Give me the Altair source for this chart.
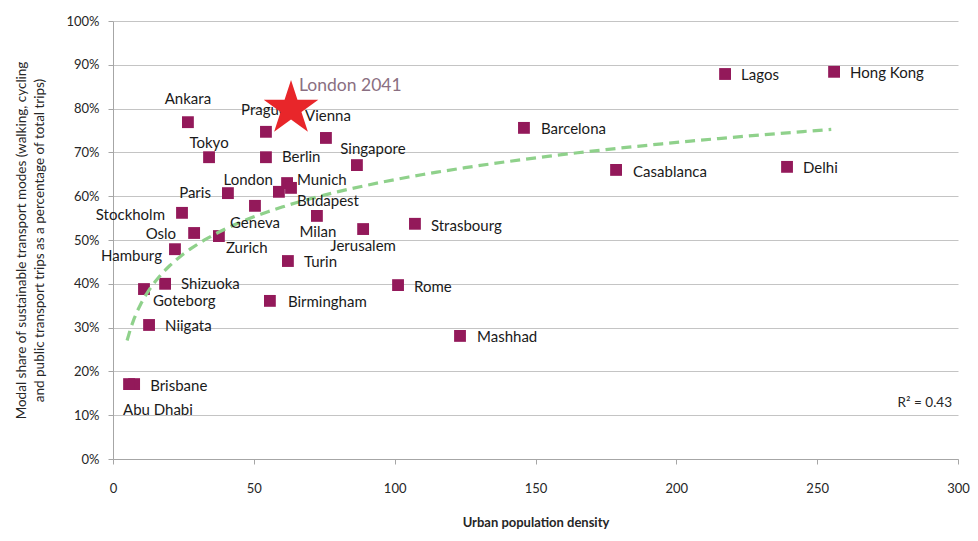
import altair as alt
import pandas as pd

# ---------------- data ----------------
cities = ["Ankara", "Prague", "Vienna", "Tokyo", "Berlin", "Singapore", "London",
          "Munich", "Budapest", "Paris", "Geneva", "Stockholm", "Oslo", "Zurich",
          "Milan", "Jerusalem", "Hamburg", "Turin", "Shizuoka", "Goteborg",
          "Birmingham", "Niigata", "Brisbane", "Abu Dhabi", "Barcelona", "Lagos",
          "Hong Kong", "Casablanca", "Delhi", "Strasbourg", "Rome", "Mashhad"]
density = [26.6, 54.3, 75.6, 34.1, 54.3, 86.6, 58.9,
           61.8, 63.2, 40.8, 50.4, 24.5, 28.8, 37.6,
           72.4, 88.8, 22.0, 62.1, 18.5, 11.0,
           55.7, 12.8, 7.5, 5.7, 145.9, 217.3,
           256.0, 178.6, 239.3, 107.2, 101.2, 123.2]
share = [0.769, 0.747, 0.733, 0.689, 0.689, 0.671, 0.610,
         0.630, 0.619, 0.607, 0.578, 0.562, 0.516, 0.509,
         0.555, 0.525, 0.479, 0.452, 0.400, 0.388,
         0.361, 0.306, 0.171, 0.171, 0.756, 0.879,
         0.884, 0.660, 0.667, 0.537, 0.397, 0.281]

target_name = ["London 2041"]
target_density = [63.2]
target_share = [0.80]

x_ticks = [0, 50, 100, 150, 200, 250, 300]
y_ticks = [0, 0.1, 0.2, 0.3, 0.4, 0.5, 0.6, 0.7, 0.8, 0.9, 1.0]
r2_text = "R\u00b2 = 0.43"

# ---------------- label placement (styling) ----------------
LABEL_POS = {
    "Ankara": ("center", 0, -23), "Prague": ("center", -2, -22),
    "Vienna": ("center", 2, -22), "Tokyo": ("center", 0, -14),
    "Berlin": ("left", 16, 0), "Singapore": ("center", 16, -16),
    "London": ("right", -6, -12), "Munich": ("left", 10, -3),
    "Budapest": ("left", 6, 13), "Paris": ("right", -17, 0),
    "Geneva": ("center", 0, 17), "Stockholm": ("right", -17, 2),
    "Oslo": ("right", -18, 1), "Zurich": ("left", 7, 12),
    "Milan": ("center", 1, 16), "Jerusalem": ("center", 0, 17),
    "Hamburg": ("right", -13, 7), "Turin": ("left", 16, 1),
    "Shizuoka": ("left", 16, 0), "Goteborg": ("left", 9, 12),
    "Birmingham": ("left", 18, 1), "Niigata": ("left", 16, 1),
    "Brisbane": ("left", 16, 2), "Abu Dhabi": ("left", -6, 26),
    "Barcelona": ("left", 17, 1), "Lagos": ("left", 16, 1),
    "Hong Kong": ("left", 16, 1), "Casablanca": ("left", 17, 2),
    "Delhi": ("left", 16, 1), "Strasbourg": ("left", 16, 2),
    "Rome": ("left", 16, 2), "Mashhad": ("left", 17, 1),
}

df = pd.DataFrame({"city": cities, "density": density, "share": share})
tdf = pd.DataFrame({"name": target_name, "density": target_density, "share": target_share})

FONT = "Lato"
STAR = ("M0,-1 L0.225,-0.309 L0.951,-0.309 L0.363,0.118 L0.588,0.809 L0,0.382 "
        "L-0.588,0.809 L-0.363,0.118 L-0.951,-0.309 L-0.225,-0.309 Z")

xscale = alt.Scale(domain=[0, 300], nice=False, zero=False)
yscale = alt.Scale(domain=[0, 1], nice=False)

x_enc = alt.X("density:Q", scale=xscale, axis=alt.Axis(
    values=x_ticks, grid=False, title="Urban population  density",
    titleFontWeight="bold", titleFontSize=13, titleFont=FONT, titleColor="#262626",
    titlePadding=21, labelFontSize=13, labelFont=FONT, labelColor="#262626",
    labelPadding=18, labelFlush=False, tickSize=5, tickColor="#a6a6a6",
    domainColor="#a6a6a6"))

y_enc = alt.Y("share:Q", scale=yscale, axis=alt.Axis(
    values=y_ticks, format=".0%", grid=True, gridColor="#c4c4c4",
    domainColor="#a6a6a6", tickColor="#a6a6a6", tickSize=5, labelPadding=9,
    labelFontSize=13, labelFont=FONT, labelColor="#262626", labelFlush=False,
    title=["Modal share of sustainable transport modes (walking, cycling",
           "and public transport trips as a percentage of total trips)"],
    titleFontSize=13.5, titleFontWeight="normal", titleFont=FONT, titleColor="#262626",
    titleAngle=-90, titleAlign="center", titleBaseline="top",
    titleX=-99, titleY=219, titleLineHeight=18))

base = alt.Chart(df)
xs = alt.X("density:Q", scale=xscale)
ys = alt.Y("share:Q", scale=yscale)

points = base.mark_square(size=140, color="#93195A", opacity=1).encode(x=x_enc, y=y_enc)

trend = base.transform_regression(
    "density", "share", method="log", extent=[5, 255]
).mark_line(color="#8fd18b", strokeWidth=3.2, strokeDash=[10, 6]).encode(x=xs, y=ys)

label_layers = []
for c in cities:
    al, ddx, ddy = LABEL_POS[c]
    label_layers.append(
        base.transform_filter(alt.datum.city == c).mark_text(
            align=al, baseline="middle", dx=ddx, dy=ddy,
            font=FONT, fontSize=15, color="#1a1a1a"
        ).encode(x=xs, y=ys, text="city:N"))

star = alt.Chart(tdf).mark_point(shape=STAR, size=3300, filled=True,
                                 color="#E8262A", opacity=1, strokeWidth=0).encode(x=xs, y=ys)

star_label = alt.Chart(tdf).mark_text(align="left", baseline="middle", dx=8, dy=-23,
                                      font=FONT, fontSize=17.5, color="#8a6f82").encode(
    x=xs, y=ys, text="name:N")

r2 = alt.Chart(pd.DataFrame({"t": [r2_text]})).mark_text(
    align="right", baseline="middle", font=FONT, fontSize=13.5, color="#262626").encode(
    x=alt.value(839), y=alt.value(382), text="t:N")

chart = alt.layer(points, trend, *label_layers, star, star_label, r2).properties(
    width=845, height=438,
    autosize=alt.AutoSizeParams(type="none"),
    padding={"left": 113, "top": 21, "right": 20, "bottom": 82},
    background="white",
).configure_view(stroke=None)

chart.save("out.html", embed_options={"renderer": "svg", "actions": False})
